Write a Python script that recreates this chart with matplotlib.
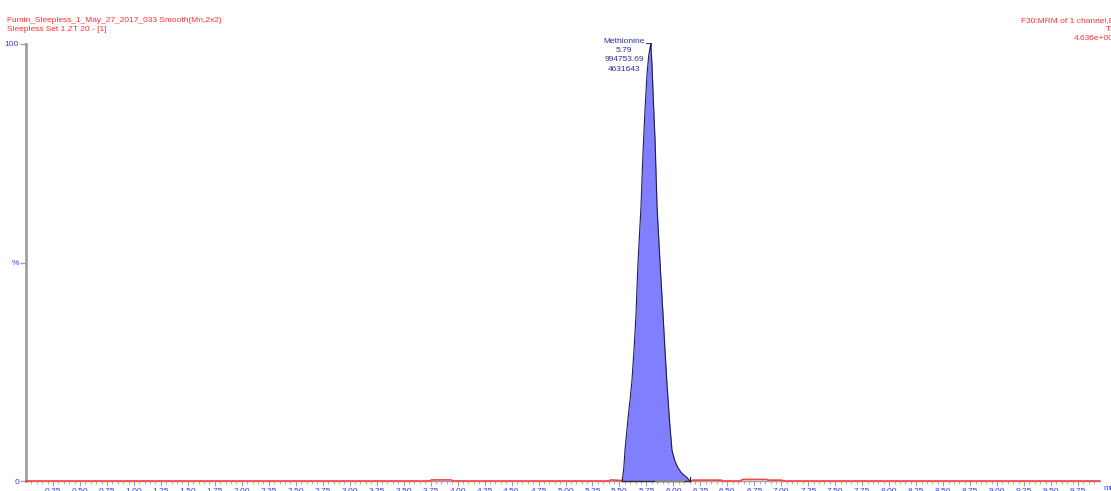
import matplotlib
matplotlib.use("Agg")
import matplotlib.pyplot as plt
import numpy as np

plt.rcParams["font.family"] = ["Liberation Sans", "DejaVu Sans"]

# ---- data ----
peak_time = [5.524, 5.534, 5.542, 5.551, 5.565, 5.580, 5.598, 5.616, 5.635,
             5.653, 5.672, 5.686, 5.700, 5.718, 5.737, 5.755, 5.772, 5.790,
             5.802, 5.816, 5.830, 5.848, 5.862, 5.876, 5.890, 5.904, 5.922,
             5.941, 5.965, 5.987, 6.015, 6.043, 6.070, 6.100, 6.126, 6.153]
peak_pct = [0.0, 1.5, 3.5, 7.0, 10.5, 14.5, 18.5, 23.0, 30.0,
            38.0, 50.0, 56.5, 63.0, 75.0, 85.0, 93.0, 97.5, 100.0,
            95.0, 86.0, 78.0, 63.0, 56.5, 50.0, 44.0, 38.0, 30.0,
            22.0, 13.5, 7.0, 4.5, 3.0, 2.0, 1.3, 0.8, 0.0]

trace_time = [0.0, 3.74, 3.76, 3.94, 3.96, 5.40, 5.42, 5.52, 6.16, 6.18, 6.44,
              6.46, 6.62, 6.64, 6.86, 6.88, 7.00, 7.02, 9.95]
trace_pct = [0.0, 0.0, 0.25, 0.25, 0.0, 0.0, 0.25, 0.1, 0.0, 0.2, 0.2,
             0.0, 0.0, 0.35, 0.35, 0.2, 0.2, 0.0, 0.0]

xtick_vals = [0.25 * i for i in range(1, 40)]
xtick_labels = ["%.2f" % v for v in xtick_vals]
ytick_vals = [0, 50, 100]
ytick_labels = ["0", "%", "100"]

peak_labels = ["Methionine", "5.79", "994753.69", "4631643"]

header_left = ["Fumin_Sleepless_1_May_27_2017_033 Smooth(Mn,2x2)",
               "Sleepless Set 1 ZT 20 - [1]"]
header_right = ["F30:MRM of 1 channel,ES+", "TIC", "4.636e+006"]

W, H = 1111, 491
fig = plt.figure(figsize=(W / 100, H / 100), dpi=100)
fig.patch.set_facecolor("white")

x0px, x1px = 26, 1100
y0px, y1px = 481, 44
ax = fig.add_axes([x0px / W, (H - y0px) / H, (x1px - x0px) / W, (y0px - y1px) / H])
ax.set_xlim(0, (x1px - x0px) / 107.9)
ax.set_ylim(0, 100)
ax.set_facecolor("white")

blue = "#3a3aff"
gray = "#a0a0a0"
fs = 6.0

for s in ["top", "right"]:
    ax.spines[s].set_visible(False)
ax.spines["left"].set_color(gray)
ax.spines["left"].set_linewidth(2)
ax.spines["bottom"].set_color(gray)
ax.spines["bottom"].set_linewidth(1)

ax.set_yticks(ytick_vals)
ax.set_yticklabels(ytick_labels, color=blue, fontsize=fs)
ax.tick_params(axis="y", length=4, width=1, color=gray, pad=1)

ax.set_xticks(xtick_vals)
ax.set_xticklabels(xtick_labels, color=blue, fontsize=fs)
ax.set_xticks(np.arange(0.05, 9.95, 0.05), minor=True)
ax.tick_params(axis="x", which="major", length=3.5, width=0.8, color=gray, pad=1.5)
ax.tick_params(axis="x", which="minor", length=2.5, width=0.6, color=gray)

# baseline trace
ax.plot(trace_time, trace_pct, color="#ff4040", lw=1.2, clip_on=False, zorder=3)

# peak
ax.fill_between(peak_time, peak_pct, 0, color="#8080ff", lw=0, zorder=4)
ax.plot(peak_time, peak_pct, color="#1e1e50", lw=0.8, zorder=5)
# integration baseline
ax.plot([peak_time[0], peak_time[-1]], [0, 0], color="#303030", lw=1, zorder=6, clip_on=False)
ax.plot([5.84, 6.10], [0, 0], color="#909090", lw=1.2, zorder=6, clip_on=False)
for t in (peak_time[0], peak_time[-1]):
    ax.plot([t, t], [0, 0.9], color="#303030", lw=0.8, zorder=6, clip_on=False)

# peak annotation (baselines in pixel rows 43, 52, 61, 71)
ann_col = "#3030a0"
for lab, ypx in zip(peak_labels, [43, 52, 61, 71]):
    ax.text(5.545, (y0px - ypx) / (y0px - y1px) * 100, lab, ha="center", va="baseline",
            fontsize=fs, color=ann_col, clip_on=False)
ybr = (y0px - 43) / (y0px - y1px) * 100
ax.plot([5.745, 5.79, 5.79], [ybr, ybr, 99.5], color="#404060", lw=0.8, clip_on=False)

# axis unit label
fig.text(1103 / W, (H - 488) / H, "min", color=blue, fontsize=fs, ha="left", va="center")

# header texts
red = "#ff3030"
fig.text(7 / W, (H - 22) / H, header_left[0], color=red, fontsize=fs, ha="left", va="baseline")
fig.text(7 / W, (H - 31) / H, header_left[1], color=red, fontsize=fs, ha="left", va="baseline")
fig.text(1021 / W, (H - 22) / H, header_right[0], color=red, fontsize=fs, ha="left", va="baseline")
fig.text(1106 / W, (H - 31) / H, header_right[1], color=red, fontsize=fs, ha="left", va="baseline")
fig.text(1074 / W, (H - 40) / H, header_right[2], color=red, fontsize=fs, ha="left", va="baseline")

fig.savefig("out.png", dpi=100)
